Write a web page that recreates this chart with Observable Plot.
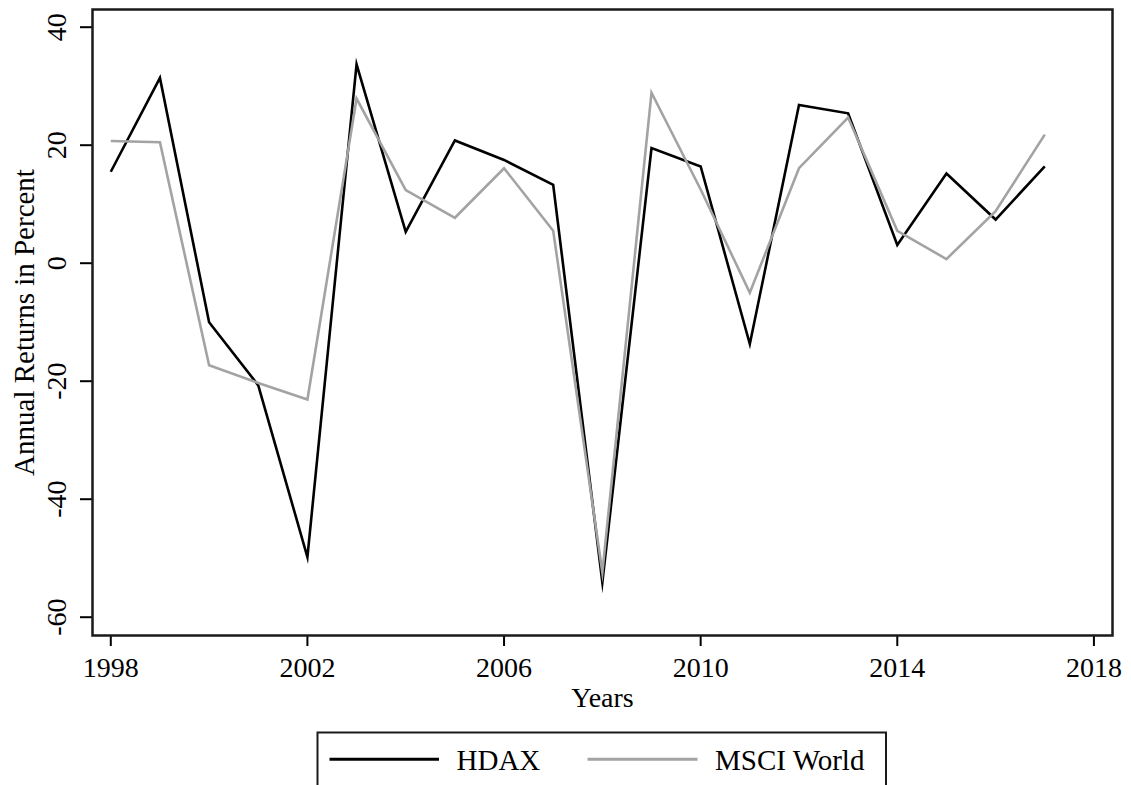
<!DOCTYPE html>
<html>
<head>
<meta charset="utf-8">
<script src="https://cdn.jsdelivr.net/npm/d3@7"></script>
<script src="https://cdn.jsdelivr.net/npm/@observablehq/plot@0.6"></script>
<style>
  html, body { margin: 0; padding: 0; background: #fff; }
  #chart { width: 1131px; height: 785px; overflow: hidden; font-family: "Liberation Serif", "Times New Roman", serif; }
  #chart svg { display: block; }
</style>
</head>
<body>
<div id="chart"></div>
<script>
// ---- data ----
const years = [1998, 1999, 2000, 2001, 2002, 2003, 2004, 2005, 2006, 2007,
               2008, 2009, 2010, 2011, 2012, 2013, 2014, 2015, 2016, 2017];
const hdax = [15.5, 31.4, -10.0, -20.7, -49.8, 33.7, 5.3, 20.8, 17.5, 13.3,
              -54.1, 19.5, 16.4, -13.7, 26.8, 25.4, 3.1, 15.2, 7.4, 16.4];
const msciWorld = [20.7, 20.5, -17.3, -20.3, -23.1, 27.9, 12.4, 7.7, 16.1, 5.5,
                   -52.4, 28.9, 12.5, -5.0, 16.1, 24.7, 5.5, 0.7, 8.8, 21.8];
const seriesNames = ["HDAX", "MSCI World"];
const seriesColors = ["#000000", "#a3a3a3"];
const xTicks = [1998, 2002, 2006, 2010, 2014, 2018];
const yTicks = [-60, -40, -20, 0, 20, 40];
const xTitle = "Years";
const yTitle = "Annual Returns in Percent";

const rows = [];
years.forEach((yr, i) => rows.push({year: yr, value: hdax[i], series: seriesNames[0]}));
years.forEach((yr, i) => rows.push({year: yr, value: msciWorld[i], series: seriesNames[1]}));

const font = "Liberation Serif";

const plot = Plot.plot({
  width: 1131,
  height: 720,
  marginLeft: 92,
  marginRight: 19,
  marginTop: 9,
  marginBottom: 85,
  style: {fontFamily: font, fontSize: "28px", color: "#000", background: "#fff"},
  x: {domain: [1997.628, 2018.378]},
  y: {domain: [-63.1, 43.0]},
  color: {domain: seriesNames, range: seriesColors},
  marks: [
    Plot.axisX({ticks: xTicks, tickSize: 11, tickFormat: () => "", strokeWidth: 2, label: null, anchor: "bottom"}),
    Plot.axisY({ticks: yTicks, tickSize: 12, tickFormat: () => "", strokeWidth: 2, label: null, anchor: "left"}),
    Plot.text(xTicks, {x: d => d, text: d => String(d), frameAnchor: "bottom", lineAnchor: "bottom", dy: 41, fontSize: 28}),
    Plot.text(yTicks, {y: d => d, text: d => String(d), frameAnchor: "left", rotate: -90, textAnchor: "middle", lineAnchor: "bottom", dx: -27, fontSize: 28}),
    Plot.text([xTitle], {frameAnchor: "bottom", lineAnchor: "bottom", dy: 71, fontSize: 28}),
    Plot.text([yTitle], {frameAnchor: "left", rotate: -90, textAnchor: "middle", lineAnchor: "bottom", dx: -59, fontSize: 29}),
    Plot.lineY(rows, {x: "year", y: "value", stroke: "series", z: "series", strokeWidth: 2.6, strokeLinejoin: "miter", strokeMiterlimit: 10, strokeLinecap: "butt"}),
    Plot.frame({stroke: "#1a1a1a", strokeWidth: 2.5})
  ]
});
document.getElementById("chart").appendChild(plot);

// ---- legend below the plot ----
const leg = d3.select("#chart").append("svg")
  .attr("width", 1131).attr("height", 65)
  .style("font-family", font);
leg.append("rect")
  .attr("x", 317.5).attr("y", 12.5).attr("width", 568.5).attr("height", 90)
  .attr("fill", "none").attr("stroke", "#1a1a1a").attr("stroke-width", 2);
const items = [
  {name: seriesNames[0], color: seriesColors[0], x0: 329.5, x1: 439, tx: 456.5},
  {name: seriesNames[1], color: seriesColors[1], x0: 587.5, x1: 697.5, tx: 715}
];
items.forEach(it => {
  leg.append("line").attr("x1", it.x0).attr("x2", it.x1).attr("y1", 39.3).attr("y2", 39.3)
    .attr("stroke", it.color).attr("stroke-width", 3);
  leg.append("text").attr("x", it.tx).attr("y", 50).attr("font-size", 29).attr("fill", "#000").text(it.name);
});
</script>
</body>
</html>
